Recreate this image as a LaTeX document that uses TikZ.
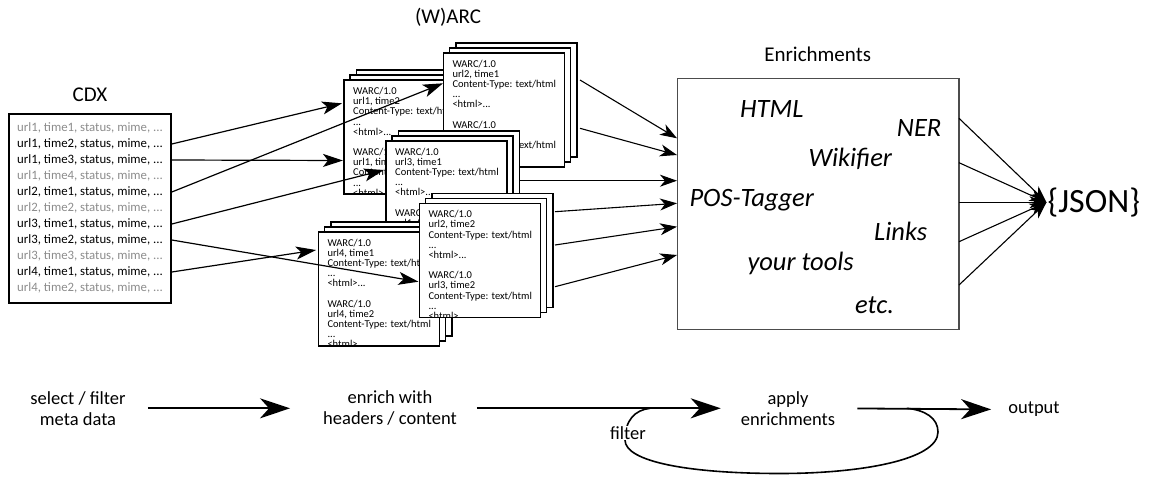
\documentclass[tikz,border=0pt]{standalone}
\usepackage{fontspec}
\setmainfont{Carlito}
\usetikzlibrary{arrows.meta}

\definecolor{faded}{gray}{0.55}

\tikzset{
  sheet/.style={line width=1.6pt},
  warctext/.style={anchor=north west, inner sep=0pt, align=left, font=\fontsize{10.5}{10.2}\selectfont},
  cdxrow/.style={anchor=west, inner sep=0pt, font=\fontsize{12.8}{14}\selectfont},
  headline/.style={font=\fontsize{21}{24}\selectfont},
  tool/.style={anchor=base west, inner sep=0pt, font=\fontsize{26.5}{30}\selectfont\itshape},
  feed/.style={line width=1.2pt, -{Stealth[length=20pt,width=13pt,inset=5pt]}},
  enrich/.style={line width=1.1pt, -{Stealth[length=17pt,width=12pt,inset=5pt]}},
  stagetext/.style={inner sep=0pt, align=center, font=\fontsize{18.5}{20.7}\selectfont},
  stagearrow/.style={line width=1.8pt, -{Stealth[length=30pt,width=20pt,inset=9pt]}},
  backflow/.style={line width=1.6pt}
}

% stack of three warc sheets: name, left, top, text
\newcommand{\warcstack}[4]{%
  \foreach \d in {2,1,0}{
    \filldraw[sheet, fill=white] ({#2+6.2*\d},{#3-5*\d}) rectangle ++(121,114);
  }
  \coordinate (#1) at (#2,#3);
  \begin{scope}
    \clip (#2,#3) rectangle ++(121,114);
    \node[warctext] (#1-txt) at ({#2+9},{#3+7}) {#4};
  \end{scope}
}

\begin{document}
\begin{tikzpicture}[x=1pt, y=-1pt]
  \useasboundingbox (0,0) rectangle (1151,477);

  % CDX
  \node[headline] (cdxlabel) at (90,95) {CDX};
  \node[draw, sheet, minimum width=162pt, minimum height=189pt, inner sep=0pt] (cdx) at (90,208.5) {};
  \foreach \u/\t/\c [count=\i] in {1/1/faded,1/2/black,1/3/black,1/4/faded,2/1/black,2/2/faded,
                                   3/1/black,3/2/black,3/3/faded,4/1/black,4/2/faded}
    \node[cdxrow, text=\c] (r\i) at (17,{128+16*(\i-1)}) {url\u, time\t, status, mime, ...};

  % (W)ARC
  \node[headline] (warclabel) at (448,17) {(W)ARC};
  \warcstack{sa}{344}{80}{WARC/1.0\\url1, time2\\Content-Type: text/html\\...\\<html>...\\[10pt]WARC/1.0\\url1, time3\\Content-Type: text/html\\...\\<html>...}
  \warcstack{sb}{443.3}{52.7}{WARC/1.0\\url2, time1\\Content-Type: text/html\\...\\<html>...\\[10pt]WARC/1.0\\url1, time1\\Content-Type: text/html\\...\\<html>...}
  \warcstack{sc}{386}{140.7}{WARC/1.0\\url3, time1\\Content-Type: text/html\\...\\<html>...\\[10pt]WARC/1.0\\url1, time4\\Content-Type: text/html\\...\\<html>...}
  \warcstack{se}{318.3}{231.7}{WARC/1.0\\url4, time1\\Content-Type: text/html\\...\\<html>...\\[10pt]WARC/1.0\\url4, time2\\Content-Type: text/html\\...\\<html>...}
  \warcstack{sd}{419.3}{203.3}{WARC/1.0\\url2, time2\\Content-Type: text/html\\...\\<html>...\\[10pt]WARC/1.0\\url3, time2\\Content-Type: text/html\\...\\<html>...}

  \coordinate (a1) at (342,103.3);
  \coordinate (a2) at (343,160.5);
  \coordinate (b1) at (443,83.3);
  \coordinate (c1) at (384,170);
  \coordinate (d2) at (418.5,281.7);
  \coordinate (e1) at (316,250);
  \draw[feed] (r2 -| cdx.east) -- (a1);
  \draw[feed] (r3 -| cdx.east) -- (a2);
  \draw[feed] (r5 -| cdx.east) -- (b1);
  \draw[feed] (r7 -| cdx.east) -- (c1);
  \draw[feed] (r8 -| cdx.east) -- (d2);
  \draw[feed] (r10 -| cdx.east) -- (e1);

  % Enrichments
  \node[headline] (enrlabel) at (817.7,54) {Enrichments};
  \node[draw=black!70, line width=1.2pt, minimum width=281.7pt, minimum height=251pt] (enr) at (818.2,203.8) {};
  \node[tool] (html) at (740,117.7) {HTML};
  \node[tool] (ner) at (896.7,136) {NER};
  \node[tool] (wiki) at (808.3,166) {Wikifier};
  \node[tool] (pos) at (689.3,206.7) {POS-Tagger};
  \node[tool] (links) at (874,240) {Links};
  \node[tool] (yours) at (747.3,270) {your tools};
  \node[tool] (etc) at (855,313.3) {etc.};

  \coordinate (o1) at (580,80);      \coordinate (i1) at (677,138.3);
  \coordinate (o2) at (580,128.3);   \coordinate (i2) at (677,155);
  \coordinate (o3) at (520,180.7);   \coordinate (i3) at (677,180.7);
  \coordinate (o4) at (555,211.7);   \coordinate (i4) at (677,203.3);
  \coordinate (o5) at (555,245);     \coordinate (i5) at (677,226.7);
  \coordinate (o6) at (555,286.7);   \coordinate (i6) at (677,255);
  \foreach \k in {1,...,6}
    \draw[enrich] (o\k) -- (i\k);

  % JSON
  \node[anchor=west, inner sep=1pt, font=\fontsize{34}{40}\selectfont] (json) at (1046.5,202.3) {\{JSON\}};
  \foreach \k/\y in {1/118.3,2/162.7,3/202.3,4/241.7,5/285}{
    \coordinate (j\k) at (959,\y);
    \draw[enrich] (j\k) -- (json.west);
  }

  % pipeline
  \node[stagetext] (sel) at (78,408.3) {select / filter\\meta data};
  \node[stagetext] (hdr) at (390,408.3) {enrich with\\headers / content};
  \node[stagetext] (app) at (788,408.3) {apply\\enrichments};
  \node[stagetext] (out) at (1034,409.5) {output};
  \draw[stagearrow, shorten <=22pt, shorten >=33pt] (sel.east) -- (hdr.west);
  \draw[stagearrow, shorten <=20pt, shorten >=20pt] (hdr.east) -- (app.west);
  \draw[stagearrow, shorten <=22pt, shorten >=17pt] (app.east) -- (out.west);

  \coordinate (lp1) at (906.7,408.3);
  \coordinate (lp2) at (650,408.3);
  \draw[backflow] (lp1) .. controls (925,410) and (938,418) .. (938,432)
    .. controls (938,460) and (860,473.5) .. (780,473.5)
    .. controls (690,473.5) and (625,462) .. (625,440)
    .. controls (625,420) and (635,410) .. (lp2);
  \node[stagetext, fill=white, inner sep=1pt] (filt) at (628,433) {filter};
\end{tikzpicture}
\end{document}
